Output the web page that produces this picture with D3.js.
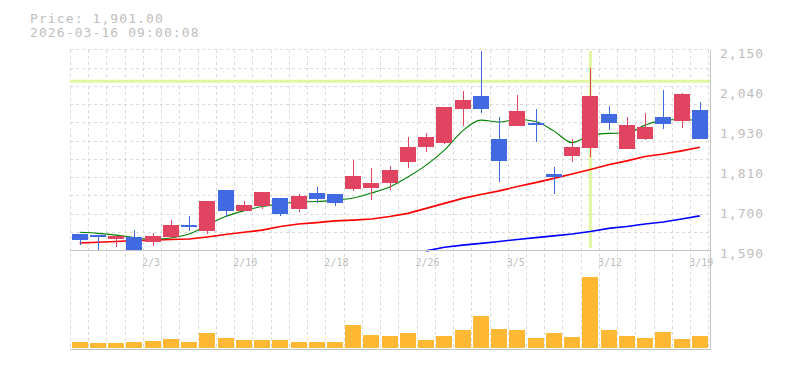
<!DOCTYPE html>
<html>
<head>
<meta charset="utf-8">
<script src="https://cdn.jsdelivr.net/npm/d3@7"></script>
<style>
  body { margin: 0; background: #fff; }
  svg { display: block; }
  text { font-family: "DejaVu Sans Mono", monospace; fill: #bdbdbd; }
  .grid line { stroke: #dadada; stroke-dasharray: 3,3; shape-rendering: crispEdges; }
  .frame { stroke: #c4c4c4; fill: none; shape-rendering: crispEdges; }
  .candle rect, .candle line, .vol { shape-rendering: crispEdges; }
</style>
</head>
<body>
<svg id="chart" width="785" height="370"></svg>
<script>
// daily bars, 1/28 .. 3/19
var dates = ["1/28","1/29","1/30","2/2","2/3","2/4","2/5","2/6","2/9","2/10",
  "2/12","2/13","2/16","2/17","2/18","2/19","2/20","2/24","2/25","2/26",
  "2/27","3/2","3/3","3/4","3/5","3/6","3/9","3/10","3/11","3/12",
  "3/13","3/16","3/17","3/18","3/19"];
var open  = [1636,1633,1622,1628,1614,1628,1662,1645,1759,1701,1715,1737,1706,1751,1748,1762,1765,1779,1838,1880,
  1891,1986,2023,1902,1939,1948,1804,1855,1877,1972,1874,1902,1964,1953,1983];
var high  = [1637,1634,1631,1647,1639,1675,1687,1729,1759,1729,1754,1737,1747,1768,1748,1844,1822,1827,1908,1919,
  1992,2037,2150,1964,2025,1986,1824,1902,2101,1995,1964,1975,2039,2031,2006];
var low   = [1606,1591,1601,1590,1603,1625,1645,1636,1684,1701,1706,1687,1698,1723,1715,1757,1731,1760,1822,1866,
  1888,1939,1975,1782,1939,1894,1748,1838,1852,1927,1874,1899,1930,1933,1902];
var close = [1619,1628,1631,1590,1631,1661,1660,1729,1701,1717,1754,1692,1743,1734,1723,1799,1779,1815,1880,1908,
  1992,2011,1986,1841,1981,1945,1796,1880,2023,1947,1941,1936,1944,2028,1901];
var volume = [60,50,50,60,70,90,60,150,100,80,80,80,60,60,60,230,130,120,150,80,
  120,180,320,190,180,100,150,110,710,180,120,100,160,90,120];
var ma5  = [1641,1638,1633,1626,1621,1625,1636,1661,1685,1701,1713,1720,1726,1727,1731,1737,1751,1768,1796,1829,
  1871,1925,1955,1950,1957,1951,1925,1892,1913,1918,1919,1941,1955,1957,1953];
var ma25 = [1611,1613,1615,1618,1619,1621,1622,1628,1635,1641,1647,1657,1664,1668,1673,1675,1678,1685,1694,1708,
  1722,1736,1747,1757,1769,1780,1792,1804,1817,1830,1841,1853,1860,1869,1879];
var ma75 = [null,null,null,null,null,null,null,null,null,null,null,null,null,null,null,null,null,null,null,1589,
  1599,1605,1610,1615,1621,1626,1631,1636,1643,1652,1657,1664,1670,1678,1687];
var yTickValues = [1590, 1702, 1814, 1926, 2038, 2150];
var xTickLabels = ["2/3","2/10","2/18","2/26","3/5","3/12","3/19"];
var crossDate = "3/11", crossPrice = 2064;
var priceLabel = "Price: 1,901.00", timeLabel = "2026-03-16 09:00:08";

var svg = d3.select("#chart");

var x = d3.scaleBand().domain(dates).range([70.5, 708.9]);
var y = d3.scaleLinear().domain([1590, 2150]).range([250.5, 50.5]);
var yv = d3.scaleLinear().domain([0, 800]).range([348, 268]);
var bodyW = 16;
var cx = function(d) { return x(d) + x.bandwidth() / 2; };

// grid
var grid = svg.append("g").attr("class", "grid");
grid.selectAll(".vg")
    .data(dates.concat(["end"]))
  .enter().append("line")
    .attr("x1", function(d) { return d == "end" ? x.range()[1] : x(d); })
    .attr("x2", function(d) { return d == "end" ? x.range()[1] : x(d); })
    .attr("y1", 50).attr("y2", 350);
grid.selectAll(".hg")
    .data(d3.range(1, 11.5))
  .enter().append("line")
    .attr("x1", 70).attr("x2", 710)
    .attr("y1", function(k) { return y.range()[0] - k * x.step(); })
    .attr("y2", function(k) { return y.range()[0] - k * x.step(); });

// crosshair
svg.append("line")
    .attr("x1", 70).attr("x2", 710)
    .attr("y1", y(crossPrice)).attr("y2", y(crossPrice))
    .style("stroke", "#e1f6a2").style("stroke-width", 3);
svg.append("line")
    .attr("x1", cx(crossDate)).attr("x2", cx(crossDate))
    .attr("y1", 51).attr("y2", 248)
    .style("stroke", "#e1f6a2").style("stroke-width", 3);

// moving averages
function maLine(values, curve) {
  return d3.line()
    .defined(function(d) { return d != null; })
    .x(function(d, i) { return cx(dates[i]); })
    .y(function(d) { return y(d); })
    .curve(curve)(values);
}
svg.append("path").attr("d", maLine(ma75, d3.curveLinear))
    .style("fill", "none").style("stroke", "#0000ff").style("stroke-width", 1.6);
svg.append("path").attr("d", maLine(ma25, d3.curveLinear))
    .style("fill", "none").style("stroke", "#ff0000").style("stroke-width", 1.6);
svg.append("path").attr("d", maLine(ma5, d3.curveMonotoneX))
    .style("fill", "none").style("stroke", "#008000").style("stroke-width", 1.1);

// candles
var candle = svg.selectAll(".candle")
    .data(dates)
  .enter().append("g")
    .attr("class", "candle")
    .style("fill", function(d, i) { return close[i] >= open[i] ? "#e04460" : "#4169e1"; })
    .style("stroke", function(d, i) { return close[i] >= open[i] ? "#e04460" : "#4169e1"; });

candle.append("line")
    .attr("x1", function(d) { return Math.round(cx(d)) + 0.5; })
    .attr("x2", function(d) { return Math.round(cx(d)) + 0.5; })
    .attr("y1", function(d, i) { return y(high[i]); })
    .attr("y2", function(d, i) { return y(low[i]); })
    .style("stroke-width", 1);

candle.append("rect")
    .attr("x", function(d) { return Math.round(cx(d) - bodyW / 2); })
    .attr("width", bodyW)
    .attr("y", function(d, i) { return y(Math.max(open[i], close[i])); })
    .attr("height", function(d, i) { return Math.max(2, Math.abs(y(open[i]) - y(close[i]))); })
    .style("stroke", "none");

// volume
svg.selectAll(".vol")
    .data(dates)
  .enter().append("rect")
    .attr("class", "vol")
    .attr("x", function(d) { return Math.round(cx(d) - bodyW / 2); })
    .attr("width", bodyW)
    .attr("y", function(d, i) { return yv(volume[i]); })
    .attr("height", function(d, i) { return yv(0) - yv(volume[i]); })
    .style("fill", "#ffb833");

// frame lines
svg.append("line").attr("class", "frame")
    .attr("x1", 70).attr("x2", 711).attr("y1", 250.5).attr("y2", 250.5).style("stroke-width", 1.6);
svg.append("line").attr("class", "frame")
    .attr("x1", 70).attr("x2", 711).attr("y1", 349.5).attr("y2", 349.5).style("stroke-width", 1.6);
svg.append("line").attr("class", "frame")
    .attr("x1", 710.5).attr("x2", 710.5).attr("y1", 50).attr("y2", 350).style("stroke-width", 1.4);

// price axis labels
svg.selectAll(".ylab")
    .data(yTickValues)
  .enter().append("text")
    .attr("class", "ylab")
    .attr("x", 720)
    .attr("y", function(v) { return y(v) + 7; })
    .style("font-size", "13px").style("letter-spacing", "1px")
    .text(function(v) { return d3.format(",")(Math.round(v / 10) * 10); });

// date labels
svg.selectAll(".xlab")
    .data(xTickLabels)
  .enter().append("text")
    .attr("class", "xlab")
    .attr("x", function(d) { return x(d) - 1.5; })
    .attr("y", 266)
    .style("font-size", "10px")
    .text(function(d) { return d; });

// header
svg.append("text").attr("x", 30).attr("y", 22.7)
    .style("font-size", "13px").style("letter-spacing", "1.1px").text(priceLabel);
svg.append("text").attr("x", 30).attr("y", 37.3)
    .style("font-size", "13px").style("letter-spacing", "1.1px").text(timeLabel);
</script>
</body>
</html>
